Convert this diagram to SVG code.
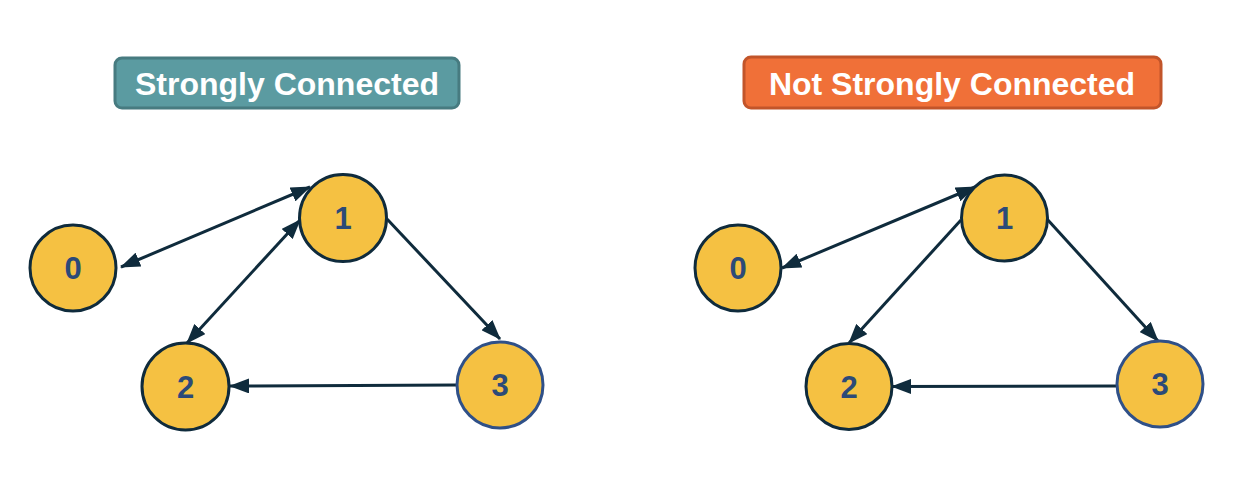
<svg xmlns="http://www.w3.org/2000/svg" width="1253" height="494" viewBox="0 0 1253 494">
<style>
.title{font-family:"Liberation Sans",Arial,sans-serif;font-weight:bold;font-size:32px;fill:#ffffff;text-anchor:middle}
.node circle{fill:#f5c142;stroke:#0f2b3c;stroke-width:3}
.node.blue circle{stroke:#2f5088}
.node text{font-family:"Liberation Sans",Arial,sans-serif;font-weight:bold;font-size:31px;fill:#2c4a78;text-anchor:middle}
.edge{stroke:#0f2b3c;stroke-width:3;fill:none}
</style>
<defs>
<marker id="ah" markerUnits="userSpaceOnUse" markerWidth="20" markerHeight="15" refX="19" refY="7.5" orient="auto-start-reverse" viewBox="0 0 20 15">
<path d="M0,0 L20,7.5 L0,15 z" fill="#0f2b3c"/>
</marker>
</defs>
<rect width="1253" height="494" fill="#ffffff"/>
<g id="title-left">
<rect x="115" y="58" width="344" height="50" rx="7" fill="#5b9ba1" stroke="#477b80" stroke-width="3"/>
<text class="title" x="287" y="95">Strongly Connected</text>
</g>
<g id="title-right">
<rect x="744" y="57" width="417" height="51" rx="7" fill="#f07038" stroke="#c2552a" stroke-width="3"/>
<text class="title" x="952" y="95">Not Strongly Connected</text>
</g>
<g id="connectors">
<line class="edge" x1="121" y1="267" x2="310" y2="187" marker-start="url(#ah)" marker-end="url(#ah)"/>
<line class="edge" x1="300" y1="220" x2="187" y2="343" marker-start="url(#ah)" marker-end="url(#ah)"/>
<line class="edge" x1="387" y1="219" x2="500" y2="339" marker-end="url(#ah)"/>
<line class="edge" x1="457" y1="385" x2="230" y2="386" marker-end="url(#ah)"/>
<line class="edge" x1="782" y1="268" x2="975" y2="187" marker-start="url(#ah)" marker-end="url(#ah)"/>
<line class="edge" x1="961" y1="220" x2="849" y2="343" marker-end="url(#ah)"/>
<line class="edge" x1="1047" y1="219" x2="1158" y2="341" marker-end="url(#ah)"/>
<line class="edge" x1="1117" y1="386" x2="892" y2="386.5" marker-end="url(#ah)"/>
</g>
<g id="L0" class="node"><circle cx="73" cy="268" r="43"/><text x="73" y="279">0</text></g>
<g id="L1" class="node"><circle cx="343" cy="218" r="43.5"/><text x="343" y="229">1</text></g>
<g id="L2" class="node"><circle cx="185.5" cy="386.5" r="43.5"/><text x="185.5" y="397.5">2</text></g>
<g id="L3" class="node blue"><circle cx="500" cy="385" r="43"/><text x="500" y="396">3</text></g>
<g id="R0" class="node"><circle cx="738" cy="268" r="43"/><text x="738" y="279">0</text></g>
<g id="R1" class="node"><circle cx="1004.5" cy="218" r="43"/><text x="1004.5" y="229">1</text></g>
<g id="R2" class="node"><circle cx="849" cy="386.5" r="43"/><text x="849" y="397.5">2</text></g>
<g id="R3" class="node blue"><circle cx="1160" cy="384" r="43"/><text x="1160" y="395">3</text></g>
</svg>
